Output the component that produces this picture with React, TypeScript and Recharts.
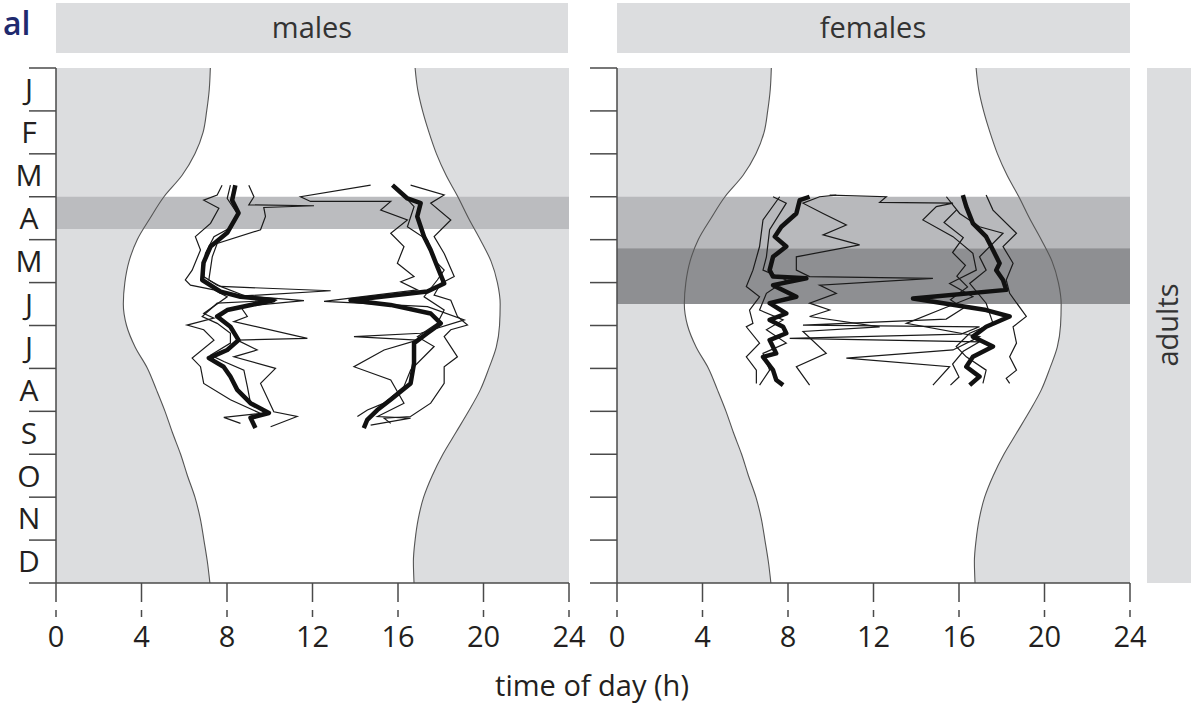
import { ComposedChart, Area, Line, XAxis, YAxis } from 'recharts'

const FONT = "'Open Sans', sans-serif"
const NIGHT = '#dcdddf'
const INK = '#231f20'
const FRAME = '#4a4a4a'

const monthLabels = ['J', 'F', 'M', 'A', 'M', 'J', 'J', 'A', 'S', 'O', 'N', 'D']
const monthTicks = [0, 0.5, 1, 1.5, 2, 2.5, 3, 3.5, 4, 4.5, 5, 5.5, 6, 6.5, 7, 7.5, 8, 8.5, 9, 9.5, 10, 10.5, 11, 11.5, 12]
const hourTicks = [0, 4, 8, 12, 16, 20, 24]

// sunrise / sunset (month position, hour)
const sunMonth = [0, 0.5, 1, 1.5, 2, 2.5, 3, 3.5, 4, 4.5, 5, 5.5, 6, 6.5, 7, 7.5, 8, 8.5, 9, 9.5, 10, 10.5, 11, 11.5, 12]
const sunRise = [7.22, 7.17, 7.05, 6.88, 6.5, 5.9, 5.05, 4.4, 3.8, 3.42, 3.22, 3.15, 3.3, 3.7, 4.28, 4.7, 5.1, 5.45, 5.83, 6.15, 6.5, 6.75, 6.92, 7.08, 7.2]
const sunSet = [16.8, 16.92, 17.15, 17.45, 17.8, 18.25, 18.8, 19.3, 19.85, 20.35, 20.65, 20.78, 20.75, 20.6, 20.25, 19.85, 19.3, 18.7, 18.1, 17.6, 17.2, 16.95, 16.8, 16.72, 16.75]

// shaded periods (start month, end month)
const maleBand = [3.0, 3.75]
const femaleLightBand = [3.0, 4.2]
const femaleDarkBand = [4.2, 5.5]

// activity onset / end, [month, hour]
const maleOnsetBold = [[2.73, 8.39], [3.08, 8.24], [3.38, 8.54], [3.84, 8.01], [4.16, 7.23], [4.54, 6.9], [4.94, 6.84], [5.21, 7.7], [5.33, 8.63], [5.41, 10.18], [5.64, 8.01], [5.79, 7.54], [6.03, 8.16], [6.34, 8.54], [6.57, 8.01], [6.76, 7.15], [6.96, 7.84], [7.19, 8.16], [7.5, 8.48], [7.81, 9.1], [8.04, 9.96], [8.15, 9.1], [8.39, 9.33]]
const maleOnsetA = [[2.73, 7.77], [2.96, 7.54], [3.08, 6.91], [3.27, 7.62], [3.62, 7.23], [3.93, 6.52], [4.24, 6.76], [4.71, 6.37], [4.94, 6.05], [5.06, 6.29], [5.17, 7.39], [5.33, 8.01], [5.72, 6.91], [5.83, 7.39], [5.99, 6.13], [6.1, 6.91], [6.34, 7.39], [6.76, 6.37], [6.96, 6.76], [7.35, 6.91], [7.73, 8.16], [8.05, 9.57], [8.14, 7.85], [8.28, 8.63]]
const maleOnsetB = [[2.73, 9.02], [3.0, 9.26], [3.19, 9.02], [3.21, 12.07], [3.25, 9.72], [3.46, 9.8], [3.77, 9.57], [4.09, 7.54], [4.4, 7.31], [4.94, 7.15], [5.09, 7.7], [5.19, 12.85], [5.31, 8.79], [5.42, 11.6], [5.56, 8.63], [5.79, 8.95], [5.91, 8.32], [6.3, 11.76], [6.34, 8.48], [6.57, 9.41], [6.73, 8.32], [7.0, 10.27], [7.35, 9.57], [8.01, 10.19], [8.12, 11.28], [8.36, 10.04]]
const maleOnsetC = [[2.73, 8.16], [3.04, 8.01], [3.39, 8.48], [3.7, 8.24], [3.93, 7.39], [4.32, 6.99], [4.86, 6.91], [5.06, 7.54], [5.33, 8.95], [5.41, 10.35], [5.48, 7.54], [5.79, 6.84], [5.95, 7.54], [6.18, 8.16], [6.41, 8.16], [6.69, 7.23], [6.84, 7.85], [7.04, 8.79], [7.42, 8.95], [7.81, 9.1], [8.05, 9.88], [8.19, 9.1], [8.36, 9.26]]
const maleEndBold = [[2.73, 15.74], [3.04, 16.44], [3.15, 17.06], [3.46, 16.9], [3.93, 17.22], [4.24, 17.53], [4.63, 17.84], [5.02, 18.16], [5.21, 17.37], [5.41, 13.78], [5.52, 15.65], [5.72, 17.53], [5.95, 18.0], [6.18, 17.37], [6.41, 16.75], [6.88, 16.75], [7.35, 16.59], [7.73, 15.65], [7.97, 15.03], [8.2, 14.56], [8.39, 14.4]]
const maleEndA = [[2.73, 16.59], [2.96, 18.16], [3.15, 17.53], [3.54, 18.47], [3.93, 17.69], [4.32, 18.16], [4.86, 18.63], [5.02, 18.0], [5.29, 17.69], [5.41, 18.47], [5.79, 18.78], [5.99, 19.25], [6.1, 18.47], [6.26, 18.16], [6.73, 18.78], [6.96, 18.16], [7.35, 18.16], [7.81, 17.53], [8.12, 16.59], [8.16, 15.35], [8.28, 15.66]]
const maleEndB = [[2.73, 14.72], [3.0, 11.44], [3.11, 11.91], [3.11, 15.66], [3.31, 15.19], [3.54, 16.44], [3.85, 15.66], [4.16, 16.28], [4.55, 15.97], [4.86, 16.75], [4.98, 16.13], [5.17, 16.91], [5.44, 12.54], [5.56, 17.38], [5.87, 19.1], [6.18, 17.06], [6.26, 13.94], [6.34, 16.91], [6.57, 15.35], [6.96, 13.94], [7.27, 15.66], [7.81, 16.28], [8.12, 15.04], [8.16, 16.59], [8.32, 14.72]]
const maleEndC = [[2.73, 15.82], [3.23, 16.75], [3.7, 16.44], [4.01, 17.38], [4.47, 17.69], [4.71, 18.16], [4.94, 17.84], [5.33, 17.22], [5.64, 18.16], [5.95, 17.84], [6.26, 16.91], [6.49, 17.69], [7.04, 16.59], [7.42, 16.28], [7.81, 15.35], [7.97, 14.57], [8.12, 14.1]]

const femaleOnsetBold = [[3.0, 9.01], [3.08, 8.55], [3.39, 8.39], [3.7, 7.69], [3.93, 7.38], [4.16, 7.92], [4.4, 7.3], [4.71, 7.14], [4.86, 7.3], [4.9, 8.86], [5.06, 7.3], [5.33, 8.39], [5.48, 7.14], [5.72, 7.92], [5.87, 7.14], [6.03, 7.77], [6.18, 7.92], [6.34, 7.14], [6.65, 7.45], [6.73, 6.83], [7.04, 7.3], [7.27, 7.45], [7.39, 7.77]]
const femaleOnsetA = [[3.0, 7.61], [3.54, 6.83], [4.16, 6.67], [4.71, 6.36], [5.09, 6.05], [5.33, 6.67], [5.64, 6.2], [5.95, 6.36], [6.03, 6.05], [6.41, 6.67], [6.73, 6.05], [7.04, 6.52], [7.35, 6.52]]
const femaleOnsetB = [[2.96, 10.26], [3.0, 9.48], [3.15, 8.7], [3.39, 9.64], [3.66, 10.73], [3.89, 9.64], [4.12, 11.35], [4.4, 8.39], [4.71, 8.39], [4.86, 9.01], [4.9, 14.78], [5.06, 9.48], [5.25, 10.26], [5.48, 9.01], [5.64, 9.95], [5.79, 9.01], [6.03, 12.29], [6.14, 8.7], [6.65, 9.79], [6.96, 8.39], [7.39, 9.01]]
const femaleOnsetC = [[3.0, 7.3], [3.15, 7.92], [3.77, 7.14], [4.4, 6.99], [4.71, 6.83], [4.94, 7.92], [5.25, 6.99], [5.64, 6.67], [5.87, 7.77], [6.1, 6.99], [6.41, 7.92], [6.65, 6.83], [7.04, 7.14], [7.39, 6.67]]
const femaleEndBold = [[2.96, 16.18], [3.23, 16.34], [3.62, 16.65], [3.93, 17.27], [4.24, 17.59], [4.55, 17.9], [4.71, 17.74], [4.94, 18.06], [5.17, 18.21], [5.37, 13.85], [5.64, 17.27], [5.79, 18.37], [6.03, 17.27], [6.26, 16.65], [6.49, 17.59], [6.73, 16.65], [6.96, 16.34], [7.19, 16.96], [7.39, 16.5]]
const femaleEndA = [[2.96, 17.27], [3.31, 17.59], [3.85, 18.69], [4.16, 18.06], [4.55, 18.53], [4.94, 18.21], [5.25, 18.37], [5.79, 19.15], [6.03, 18.53], [6.41, 18.69], [6.73, 18.37], [7.04, 18.69], [7.23, 18.21], [7.35, 18.37]]
const femaleEndB = [[2.96, 9.95], [3.0, 12.6], [3.13, 12.29], [3.15, 15.72], [3.23, 14.94], [3.54, 14.31], [3.93, 15.72], [4.32, 16.65], [4.71, 16.81], [5.02, 15.56], [5.33, 16.65], [5.64, 15.09], [5.95, 13.54], [6.26, 16.96], [6.57, 15.72], [6.76, 10.73], [6.96, 15.56], [7.39, 14.78]]
const femaleEndC = [[3.0, 15.41], [3.39, 16.03], [3.7, 16.96], [3.85, 18.06], [4.4, 16.96], [4.71, 17.27], [5.02, 16.5], [5.48, 17.27], [5.95, 17.59], [6.18, 16.5], [6.49, 15.87], [6.73, 16.34], [7.04, 17.27], [7.35, 17.12]]
const femaleEndD = [[3.3, 15.9], [3.6, 15.3], [3.95, 16.2], [4.3, 15.7], [4.6, 16.3], [4.85, 15.9], [5.1, 16.4], [5.4, 15.6], [5.6, 16.2], [5.85, 15.4], [5.99, 8.7], [6.03, 16.96], [6.2, 16.1], [6.3, 8.08], [6.38, 16.96], [6.6, 16.2], [6.9, 15.7], [7.2, 16.0], [7.39, 15.6]]

const sunRows = sunMonth.map((m, i) => ({ m, rise: sunRise[i], set: sunSet[i] }))
const toRows = (pts: number[][]) => pts.map(([m, h]) => ({ m, h }))
const bandRows = (band: number[]) => band.map((m) => ({ m, v: [0, 24] }))

function HourTick(props: any) {
  const { x, y, payload } = props
  return (
    <g>
      <line x1={x} x2={x} y1={y} y2={y + 19} stroke={FRAME} strokeWidth={1.5} />
      <line x1={x} x2={x} y1={y + 27} y2={y + 34} stroke={FRAME} strokeWidth={1.5} />
      <text x={x} y={y + 64} textAnchor="middle" fontSize={29} fontFamily={FONT} fill={INK}>
        {payload.value}
      </text>
    </g>
  )
}

function makeMonthTick(showLabels: boolean) {
  return (props: any) => {
    const { x, y, payload } = props
    const v = payload.value
    if (Number.isInteger(v)) {
      return <line x1={x - 27} x2={x} y1={y} y2={y} stroke={FRAME} strokeWidth={1.5} />
    }
    if (!showLabels) return <g />
    return (
      <text x={x - 27} y={y} dy="0.36em" textAnchor="middle" fontSize={30} fontFamily={FONT} fill={INK}>
        {monthLabels[Math.floor(v)]}
      </text>
    )
  }
}

interface PanelProps {
  yAxisWidth: number
  showLabels: boolean
  bands: { range: number[]; color: string }[]
  thin: number[][][]
  bold: number[][][]
}

function Panel({ yAxisWidth, showLabels, bands, thin, bold }: PanelProps) {
  const axisStroke = { stroke: FRAME, strokeWidth: 1.5 }
  return (
    <ComposedChart
      layout="vertical"
      width={yAxisWidth + 533}
      height={660}
      margin={{ top: 68, right: 20, bottom: 0, left: 0 }}
      data={sunRows}
    >
      <Area dataKey={(d: any) => [0, d.rise]} type="monotone" fill={NIGHT} fillOpacity={1} stroke="none" isAnimationActive={false} />
      <Area dataKey={(d: any) => [d.set, 24]} type="monotone" fill={NIGHT} fillOpacity={1} stroke="none" isAnimationActive={false} />
      {bands.map((b, i) => (
        <Area
          key={'band' + i}
          data={bandRows(b.range)}
          dataKey="v"
          type="linear"
          fill={b.color}
          fillOpacity={1}
          stroke="none"
          isAnimationActive={false}
        />
      ))}
      <Line dataKey="rise" type="monotone" stroke="#555" strokeWidth={1.1} dot={false} isAnimationActive={false} />
      <Line dataKey="set" type="monotone" stroke="#555" strokeWidth={1.1} dot={false} isAnimationActive={false} />
      {thin.map((pts, i) => (
        <Line key={'t' + i} data={toRows(pts)} dataKey="h" type="linear" stroke="#1a1a1a" strokeWidth={1.2} dot={false} isAnimationActive={false} />
      ))}
      {bold.map((pts, i) => (
        <Line key={'b' + i} data={toRows(pts)} dataKey="h" type="linear" stroke="#111" strokeWidth={4.5} strokeLinejoin="round" dot={false} isAnimationActive={false} />
      ))}
      <XAxis
        type="number"
        domain={[0, 24]}
        ticks={hourTicks}
        interval={0}
        tickSize={0}
        tickMargin={0}
        tickLine={false}
        tick={HourTick}
        axisLine={axisStroke}
        height={77}
        allowDataOverflow
      />
      <XAxis xAxisId="top" orientation="top" type="number" domain={[0, 24]} height={0} tick={false} tickLine={false} axisLine={axisStroke} allowDataOverflow />
      <YAxis
        type="number"
        dataKey="m"
        domain={[0, 12]}
        ticks={monthTicks}
        interval={0}
        tickSize={0}
        tickMargin={0}
        tickLine={false}
        tick={makeMonthTick(showLabels)}
        axisLine={axisStroke}
        width={yAxisWidth}
        allowDataOverflow
      />
      <YAxis yAxisId="right" orientation="right" type="number" domain={[0, 12]} width={0} tick={false} tickLine={false} axisLine={axisStroke} allowDataOverflow />
    </ComposedChart>
  )
}

export default function App() {
  return (
    <div style={{ position: 'absolute', left: 0, top: 0, width: 1191, height: 707, background: '#fff', overflow: 'hidden' }}>
      <svg width={1191} height={707} style={{ position: 'absolute', left: 0, top: 0 }}>
        <text x={3} y={35} fontSize={32} fontWeight={600} fontFamily={FONT} fill="#1f2a6e">al</text>
        <rect x={56} y={3} width={512} height={50} fill={NIGHT} />
        <text x={312} y={28} dy="0.36em" textAnchor="middle" fontSize={29} fontFamily={FONT} fill="#333">males</text>
        <rect x={617} y={3} width={513} height={50} fill={NIGHT} />
        <text x={873} y={28} dy="0.36em" textAnchor="middle" fontSize={29} fontFamily={FONT} fill="#333">females</text>
        <rect x={1147} y={68} width={50} height={515} fill={NIGHT} />
        <text transform="translate(1168,325) rotate(-90)" dy="0.36em" textAnchor="middle" fontSize={29} fontFamily={FONT} fill="#333">adults</text>
        <text x={592} y={696} textAnchor="middle" fontSize={29} fontFamily={FONT} fill={INK}>time of day (h)</text>
      </svg>
      <div style={{ position: 'absolute', left: 0, top: 0 }}>
        <Panel
          yAxisWidth={56}
          showLabels
          bands={[{ range: maleBand, color: '#bbbcbf' }]}
          thin={[maleOnsetA, maleOnsetB, maleOnsetC, maleEndA, maleEndB, maleEndC]}
          bold={[maleOnsetBold, maleEndBold]}
        />
      </div>
      <div style={{ position: 'absolute', left: 589, top: 0 }}>
        <Panel
          yAxisWidth={28}
          showLabels={false}
          bands={[
            { range: femaleLightBand, color: '#b8b9bc' },
            { range: femaleDarkBand, color: '#8e8f92' },
          ]}
          thin={[femaleOnsetA, femaleOnsetB, femaleOnsetC, femaleEndA, femaleEndB, femaleEndC, femaleEndD]}
          bold={[femaleOnsetBold, femaleEndBold]}
        />
      </div>
    </div>
  )
}
